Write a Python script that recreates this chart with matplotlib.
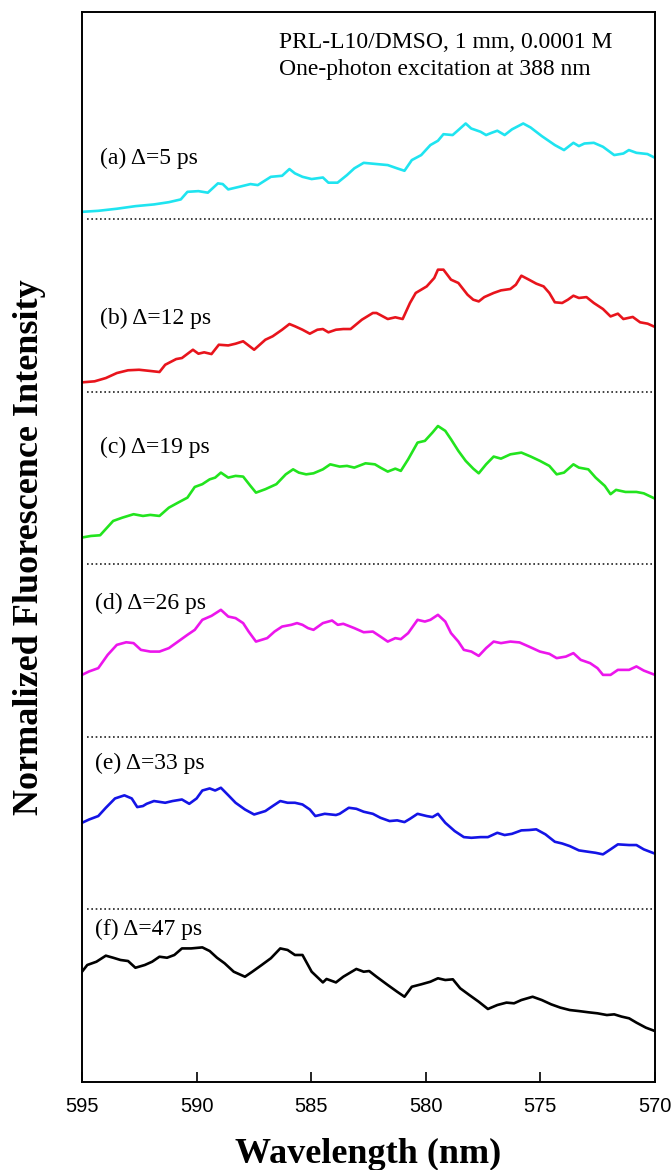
import matplotlib
matplotlib.use("Agg")
import matplotlib.pyplot as plt

# Time-resolved fluorescence spectra, PRL-L10 in DMSO
wl_a = [595.00, 594.29, 593.48, 592.67, 591.86, 591.21, 590.69, 590.40, 589.92, 589.51,
        589.07, 588.86, 588.62, 588.14, 587.65, 587.33, 586.76, 586.27, 585.95, 585.71,
        585.38, 584.98, 584.49, 584.25, 583.85, 583.44, 583.12, 582.71, 582.15, 581.66,
        581.25, 580.93, 580.61, 580.20, 579.80, 579.47, 579.23, 578.83, 578.58, 578.26,
        578.02, 577.61, 577.37, 577.13, 576.88, 576.56, 576.24, 575.75, 575.43, 574.94,
        574.37, 573.97, 573.56, 573.32, 573.08, 572.67, 572.27, 571.78, 571.38, 571.14,
        570.81, 570.33, 570.00]
int_a = [0.042, 0.048, 0.060, 0.075, 0.085, 0.098, 0.114, 0.158, 0.162, 0.153,
         0.207, 0.203, 0.172, 0.187, 0.203, 0.197, 0.245, 0.251, 0.290, 0.265,
         0.245, 0.232, 0.241, 0.211, 0.211, 0.255, 0.294, 0.326, 0.319, 0.313,
         0.294, 0.280, 0.342, 0.371, 0.429, 0.454, 0.492, 0.487, 0.516, 0.554,
         0.525, 0.506, 0.487, 0.500, 0.512, 0.487, 0.520, 0.554, 0.531, 0.481,
         0.429, 0.400, 0.442, 0.423, 0.438, 0.442, 0.419, 0.371, 0.380, 0.400,
         0.384, 0.377, 0.355]

wl_b = [595.00, 594.45, 593.96, 593.48, 592.99, 592.51, 592.02, 591.62, 591.37, 590.89,
        590.64, 590.16, 589.92, 589.67, 589.35, 589.03, 588.62, 588.30, 587.97, 587.49,
        587.00, 586.68, 586.27, 585.95, 585.71, 585.38, 585.06, 584.73, 584.49, 584.25,
        583.92, 583.60, 583.28, 582.79, 582.31, 582.15, 581.66, 581.33, 581.01, 580.69,
        580.44, 579.96, 579.63, 579.47, 579.23, 578.90, 578.58, 578.18, 577.93, 577.69,
        577.45, 577.04, 576.72, 576.31, 576.07, 575.83, 575.50, 575.18, 574.86, 574.61,
        574.37, 574.05, 573.80, 573.56, 573.32, 572.99, 572.67, 572.27, 571.94, 571.62,
        571.38, 570.97, 570.65, 570.32, 570.00]
int_b = [0.054, 0.060, 0.079, 0.108, 0.124, 0.127, 0.120, 0.114, 0.156, 0.189,
         0.195, 0.243, 0.220, 0.228, 0.218, 0.272, 0.268, 0.278, 0.292, 0.243,
         0.301, 0.321, 0.359, 0.392, 0.379, 0.359, 0.336, 0.359, 0.363, 0.344,
         0.359, 0.363, 0.363, 0.417, 0.456, 0.456, 0.421, 0.431, 0.421, 0.514,
         0.572, 0.610, 0.659, 0.707, 0.707, 0.649, 0.630, 0.562, 0.533, 0.523,
         0.548, 0.572, 0.587, 0.595, 0.620, 0.672, 0.649, 0.626, 0.610, 0.572,
         0.518, 0.514, 0.533, 0.556, 0.543, 0.548, 0.514, 0.479, 0.436, 0.452,
         0.421, 0.433, 0.402, 0.394, 0.375]

wl_c = [595.00, 594.61, 594.21, 593.64, 593.24, 592.75, 592.34, 592.02, 591.62, 591.21,
        590.81, 590.40, 590.08, 589.75, 589.43, 589.19, 588.94, 588.62, 588.30, 587.97,
        587.65, 587.41, 587.00, 586.52, 586.11, 585.79, 585.54, 585.22, 584.90, 584.49,
        584.17, 583.76, 583.44, 583.12, 582.63, 582.22, 581.98, 581.66, 581.33, 581.09,
        580.77, 580.36, 580.04, 579.71, 579.47, 579.15, 578.90, 578.58, 578.26, 577.93,
        577.69, 577.37, 577.04, 576.72, 576.31, 575.83, 575.42, 575.02, 574.61, 574.29,
        573.97, 573.56, 573.32, 572.91, 572.59, 572.19, 571.94, 571.70, 571.29, 570.81,
        570.49, 570.00]
int_c = [0.155, 0.164, 0.168, 0.251, 0.270, 0.290, 0.280, 0.286, 0.280, 0.328,
         0.357, 0.386, 0.448, 0.464, 0.492, 0.502, 0.531, 0.502, 0.512, 0.508,
         0.454, 0.415, 0.435, 0.464, 0.521, 0.550, 0.531, 0.521, 0.527, 0.550,
         0.579, 0.566, 0.570, 0.560, 0.585, 0.579, 0.560, 0.537, 0.554, 0.541,
         0.608, 0.705, 0.715, 0.763, 0.801, 0.773, 0.724, 0.657, 0.599, 0.554,
         0.527, 0.579, 0.624, 0.612, 0.637, 0.647, 0.624, 0.599, 0.570, 0.521,
         0.531, 0.579, 0.560, 0.550, 0.502, 0.454, 0.406, 0.431, 0.419, 0.419,
         0.411, 0.380]

wl_d = [595.00, 594.69, 594.29, 593.88, 593.48, 593.07, 592.75, 592.43, 592.02, 591.62,
        591.21, 590.81, 590.40, 590.08, 589.75, 589.35, 588.94, 588.62, 588.30, 587.97,
        587.73, 587.41, 586.92, 586.60, 586.27, 585.87, 585.62, 585.38, 585.14, 584.90,
        584.49, 584.09, 583.84, 583.60, 583.12, 582.71, 582.31, 581.98, 581.66, 581.33,
        581.09, 580.77, 580.36, 580.04, 579.80, 579.47, 579.15, 578.90, 578.58, 578.34,
        578.01, 577.69, 577.37, 577.04, 576.72, 576.31, 575.91, 575.50, 575.02, 574.61,
        574.29, 573.89, 573.56, 573.24, 572.83, 572.51, 572.27, 571.94, 571.62, 571.13,
        570.81, 570.49, 570.00]
int_d = [0.359, 0.379, 0.398, 0.475, 0.533, 0.548, 0.543, 0.504, 0.494, 0.494,
         0.514, 0.552, 0.591, 0.620, 0.678, 0.701, 0.736, 0.697, 0.688, 0.659,
         0.610, 0.552, 0.572, 0.610, 0.639, 0.649, 0.659, 0.649, 0.630, 0.620,
         0.659, 0.674, 0.649, 0.655, 0.630, 0.606, 0.610, 0.581, 0.552, 0.572,
         0.566, 0.601, 0.678, 0.668, 0.678, 0.707, 0.668, 0.601, 0.552, 0.504,
         0.494, 0.469, 0.514, 0.552, 0.543, 0.552, 0.547, 0.523, 0.494, 0.481,
         0.456, 0.465, 0.485, 0.446, 0.427, 0.398, 0.359, 0.359, 0.388, 0.388,
         0.408, 0.384, 0.359]

wl_e = [595.00, 594.69, 594.29, 593.96, 593.56, 593.15, 592.83, 592.59, 592.34, 592.18,
        591.86, 591.37, 591.05, 590.64, 590.32, 590.00, 589.75, 589.43, 589.19, 588.94,
        588.62, 588.30, 587.89, 587.49, 587.00, 586.68, 586.35, 586.03, 585.71, 585.38,
        585.06, 584.82, 584.41, 583.92, 583.76, 583.36, 583.03, 582.71, 582.31, 581.98,
        581.58, 581.25, 580.93, 580.69, 580.36, 579.96, 579.71, 579.47, 579.15, 578.74,
        578.34, 578.01, 577.61, 577.29, 576.88, 576.56, 576.24, 575.83, 575.50, 575.18,
        574.78, 574.37, 574.05, 573.72, 573.32, 572.91, 572.59, 572.27, 571.94, 571.62,
        571.13, 570.81, 570.49, 570.00]
int_e = [0.502, 0.521, 0.541, 0.589, 0.643, 0.661, 0.643, 0.593, 0.599, 0.612,
         0.628, 0.618, 0.628, 0.637, 0.612, 0.643, 0.689, 0.701, 0.689, 0.705,
         0.662, 0.618, 0.579, 0.550, 0.570, 0.599, 0.628, 0.618, 0.618, 0.608,
         0.579, 0.541, 0.554, 0.547, 0.554, 0.589, 0.583, 0.566, 0.554, 0.531,
         0.512, 0.516, 0.506, 0.525, 0.554, 0.541, 0.535, 0.554, 0.502, 0.454,
         0.419, 0.415, 0.419, 0.419, 0.444, 0.431, 0.438, 0.458, 0.460, 0.464,
         0.435, 0.392, 0.382, 0.367, 0.342, 0.334, 0.328, 0.319, 0.348, 0.377,
         0.373, 0.373, 0.348, 0.323]

wl_f = [595.00, 594.77, 594.37, 593.96, 593.64, 593.32, 592.99, 592.67, 592.26, 591.94,
        591.62, 591.29, 590.97, 590.64, 590.24, 589.75, 589.43, 589.11, 588.78, 588.38,
        587.89, 587.57, 587.16, 586.76, 586.35, 586.03, 585.71, 585.38, 584.98, 584.49,
        584.33, 583.92, 583.60, 583.03, 582.71, 582.47, 582.15, 581.66, 581.25, 580.93,
        580.61, 580.20, 579.80, 579.47, 579.15, 578.82, 578.50, 578.10, 577.69, 577.29,
        576.88, 576.48, 576.15, 575.83, 575.34, 574.94, 574.53, 574.13, 573.72, 573.32,
        572.91, 572.51, 572.10, 571.78, 571.46, 571.13, 570.81, 570.40, 570.00]
int_f = [0.639, 0.678, 0.697, 0.732, 0.720, 0.707, 0.701, 0.662, 0.678, 0.697,
         0.726, 0.720, 0.736, 0.774, 0.774, 0.780, 0.759, 0.720, 0.688, 0.639,
         0.610, 0.639, 0.678, 0.717, 0.774, 0.765, 0.736, 0.736, 0.639, 0.577,
         0.597, 0.577, 0.610, 0.655, 0.639, 0.643, 0.610, 0.562, 0.523, 0.494,
         0.552, 0.566, 0.581, 0.601, 0.591, 0.595, 0.543, 0.504, 0.465, 0.423,
         0.446, 0.460, 0.456, 0.475, 0.494, 0.475, 0.450, 0.431, 0.417, 0.411,
         0.404, 0.398, 0.388, 0.392, 0.379, 0.369, 0.344, 0.315, 0.295]

labels = ["(a) \u0394=5 ps", "(b) \u0394=12 ps", "(c) \u0394=19 ps",
          "(d) \u0394=26 ps", "(e) \u0394=33 ps", "(f) \u0394=47 ps"]
offsets = [5, 4, 3, 2, 1, 0]
x_ticks = [595, 590, 585, 580, 575, 570]

wavelengths = [wl_a, wl_b, wl_c, wl_d, wl_e, wl_f]
intensities = [int_a, int_b, int_c, int_d, int_e, int_f]
colors = ["#1fe4f0", "#e8141c", "#22e41e", "#ec16ec", "#1414e6", "#000000"]
# label anchor (wavelength, height above the trace's baseline)
label_xy = [(594.21, 0.353), (594.21, 0.426), (594.21, 0.679),
            (594.43, 0.775), (594.43, 0.848), (594.43, 0.886)]

serif = "Liberation Serif"
sans = "Liberation Sans"

fig = plt.figure(figsize=(6.72, 11.70), dpi=100)
ax = fig.add_axes([82 / 672, 88 / 1170, 573 / 672, 1070 / 1170])

for wl, inten, off, col, lab, (lx, ly) in zip(wavelengths, intensities, offsets,
                                              colors, labels, label_xy):
    ax.plot(wl, [v + off for v in inten], color=col, lw=1.9, solid_joinstyle="round")
    if off > 0:
        ax.plot([594.8, 570.0], [off, off], color="#222222", lw=1.2,
                linestyle=(0, (1, 1.6)))
    ax.text(lx, ly + off, lab, family=serif, fontsize=17, ha="left", va="center")

ax.set_xlim(595, 570)
ax.set_ylim(0, 6.2)
ax.set_xticks(x_ticks)
ax.set_xticklabels([str(t) for t in x_ticks], family=sans, fontsize=14.5)
ax.set_yticks([])
ax.tick_params(axis="x", direction="in", length=7, width=1.2, pad=11)
for sp in ax.spines.values():
    sp.set_linewidth(1.4)

ax.text(0.344, 0.966, "PRL-L10/DMSO, 1 mm, 0.0001 M", transform=ax.transAxes,
        family=serif, fontsize=17, ha="left", va="baseline")
ax.text(0.344, 0.941, "One-photon excitation at 388 nm", transform=ax.transAxes,
        family=serif, fontsize=17, ha="left", va="baseline")

fig.text(368.5 / 672, 7 / 1170, "Wavelength (nm)", family=serif, fontsize=26,
         fontweight="bold", ha="center", va="baseline")
fig.text(30 / 672, 623 / 1170, "Normalized Fluorescence Intensity", family=serif,
         fontsize=26, fontweight="bold", rotation=90, ha="center", va="center")

fig.savefig("out.png", dpi=100)
